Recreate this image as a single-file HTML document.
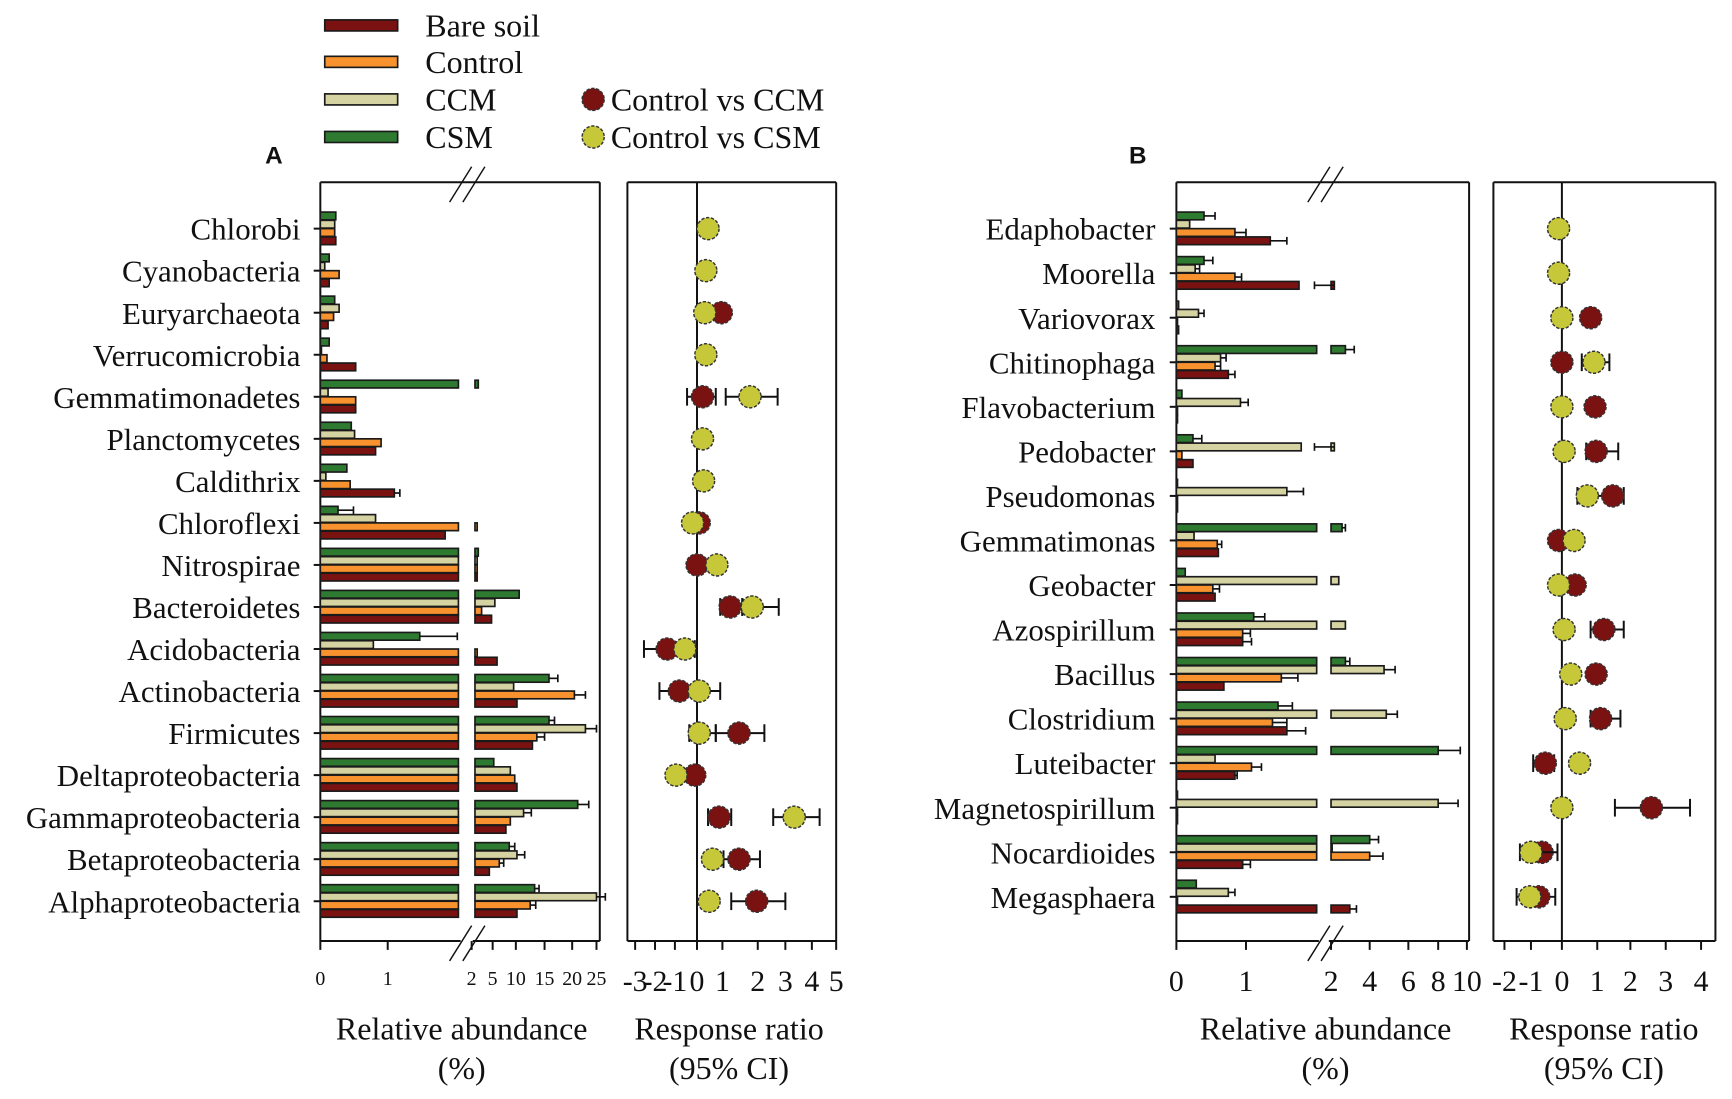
<!DOCTYPE html>
<html><head><meta charset="utf-8"><style>
html,body{margin:0;padding:0;background:#fff;}
svg{display:block;}
text{font-family:"Liberation Serif",serif;fill:#111;}
</style></head><body>
<svg id="s" width="1732" height="1099" viewBox="0 0 1568 995" preserveAspectRatio="none" xmlns="http://www.w3.org/2000/svg"></svg>
<script>
const C={r:'#7a1212',o:'#f7922e',c:'#d6d3a2',g:'#2e7a30',y:'#c6c83a'};
let h='';
function rect(x,y,w,hh,f){h+=`<rect x="${x}" y="${y}" width="${w}" height="${hh}" fill="${f}" stroke="#1a1a1a" stroke-width="1.5"/>`;}
function line(x1,y1,x2,y2,w){h+=`<line x1="${x1}" y1="${y1}" x2="${x2}" y2="${y2}" stroke="#111" stroke-width="${w||1.8}"/>`;}
function txt(x,y,s,sz,anc,extra){h+=`<text x="${x}" y="${y}" font-size="${sz}" text-anchor="${anc||'start'}" ${extra||''}>${s}</text>`;}
function circ(x,y,f){h+=`<circle cx="${x}" cy="${y}" r="10" fill="${f}" stroke="#333" stroke-width="1.3" stroke-dasharray="3,1.5"/>`;}
[['r','Bare soil',23],['o','Control',56],['c','CCM',90],['g','CSM',124]].forEach(([k,t,y])=>{rect(294,y-5,66,10,C[k]);txt(385,y+10,t,29);});
circ(537,90,C.r);txt(553,100,'Control vs CCM',29);
circ(537,124,C.y);txt(553,134,'Control vs CSM',29);
txt(248,148,'A',22,'middle','font-weight="bold" style="font-family:Liberation Sans,sans-serif"');
txt(1030,148,'B',22,'middle','font-weight="bold" style="font-family:Liberation Sans,sans-serif"');
function panel(o){
 const top=165,bot=852;
 line(o.x0,top,o.x1,top);line(o.x0,top,o.x0,bot);line(o.x1,top,o.x1,bot);line(o.x0,bot,o.x1,bot);
 line(o.r0,top,o.r1,top);line(o.r0,top,o.r0,bot);line(o.r1,top,o.r1,bot);line(o.r0,bot,o.r1,bot);
 line(o.zero,top,o.zero,bot);
 h+=`<rect x="${o.b1+2}" y="${bot-2}" width="${o.b2-o.b1-4}" height="6" fill="#fff"/>`;
 [[o.b1-8,o.b1+12],[o.b1+4,o.b1+24]].forEach(([a,b])=>{line(a,bot+18,b,bot-14,1.3);line(a,top+18,b,top-14,1.3);});
 o.ticks.forEach(([x,l])=>{line(x,bot,x,bot+8);txt(x,892,l,18,'middle');});
 o.rticks.forEach(([x,l])=>{line(x,bot,x,bot+8);txt(x,897,l,27,'middle');});
 txt(o.lab1,941,'Relative abundance',29,'middle');txt(o.lab1,977,'(%)',29,'middle');
 txt(o.lab2,941,'Response ratio',29,'middle');txt(o.lab2,977,'(95% CI)',29,'middle');
 o.rows.forEach((r,i)=>{
  const y=o.y0+i*o.dy;
  txt(o.lx,y+10,r[0],28,'end');
  line(o.x0-6,y,o.x0,y);
  const ks=['g','c','o','r'];
  r[1].forEach((b,j)=>{
   const by=y-15+j*7.5;
   const [e,s2,err]=b;
   rect(o.x0,by,Math.max(1,Math.min(e,o.b1)-o.x0),7,C[ks[j]]);
   if(s2){rect(o.b2,by,Math.max(1,s2-o.b2),7,C[ks[j]]);}
   if(err){const xe=s2||e;line(xe,by+3.5,err,by+3.5,1.5);line(err,by,err,by+7,1.5);}
  });
  r[2].forEach(p=>{
   const [x,k,lo,hi]=p;
   if(lo){line(lo,y,hi,y,1.8);line(lo,y-8,lo,y+8,1.8);line(hi,y-8,hi,y+8,1.8);}
   circ(x,y,C[k]);
  });
 });
}
panel({x0:290,x1:543,r0:568,r1:757,zero:631,b1:415,b2:430,y0:207,dy:38.06,lx:272,lab1:418,lab2:660,
 ticks:[[290,'0'],[351,'1'],[427,'2'],[446,'5'],[467,'10'],[493,'15'],[518,'20'],[540,'25']],
 rticks:[[575,'-3'],[593,'-2'],[611,'-1'],[631,'0'],[654,'1'],[686,'2'],[711,'3'],[735,'4'],[757,'5']],
 rows:[
 ['Chlorobi',[[304],[303],[303],[304]],[[641,'y']]],
 ['Cyanobacteria',[[298],[294],[307],[298]],[[639,'y']]],
 ['Euryarchaeota',[[303],[307],[302],[297]],[[653,'r'],[638,'y']]],
 ['Verrucomicrobia',[[298],[291],[296],[322]],[[639,'y']]],
 ['Gemmatimonadetes',[[415,433],[297],[322],[322]],[[636,'r',622,648],[679,'y',657,704]]],
 ['Planctomycetes',[[318],[321],[345],[340]],[[636,'y']]],
 ['Caldithrix',[[314],[295],[317],[357,0,362]],[[637,'y']]],
 ['Chloroflexi',[[306,0,320],[340],[415,432],[403]],[[633,'r'],[627,'y']]],
 ['Nitrospirae',[[415,433],[415,432],[415,432],[415,432]],[[631,'r'],[649,'y']]],
 ['Bacteroidetes',[[415,470],[415,448],[415,436],[415,445]],[[661,'r',652,672],[681,'y',672,705]]],
 ['Acidobacteria',[[380,0,414],[338],[415,432],[415,450]],[[604,'r',583,629],[620,'y']]],
 ['Actinobacteria',[[415,497,505],[415,465],[415,520,530],[415,468]],[[615,'r',597,652],[633,'y']]],
 ['Firmicutes',[[415,497,502],[415,530,540],[415,486,493],[415,482]],[[633,'y',624,648],[669,'r',648,692]]],
 ['Deltaproteobacteria',[[415,447],[415,462],[415,466],[415,468]],[[629,'r'],[612,'y']]],
 ['Gammaproteobacteria',[[415,523,533],[415,474,481],[415,462],[415,458]],[[651,'r',641,662],[719,'y',700,742]]],
 ['Betaproteobacteria',[[415,461,466],[415,468,475],[415,452,456],[415,443]],[[669,'r',655,688],[645,'y']]],
 ['Alphaproteobacteria',[[415,484,488],[415,540,548],[415,480,485],[415,468]],[[685,'r',662,711],[642,'y']]]
 ]});
panel({x0:1065,x1:1330,r0:1352,r1:1553,zero:1414,b1:1192,b2:1205,y0:207,dy:40.33,lx:1046,lab1:1200,lab2:1452,
 ticks:[],
 rticks:[[1065,'0'],[1128,'1'],[1205,'2'],[1240,'4'],[1275,'6'],[1302,'8'],[1328,'10'],[1362,'-2'],[1386,'-1'],[1414,'0'],[1446,'1'],[1476,'2'],[1508,'3'],[1540,'4']],
 rows:[
 ['Edaphobacter',[[1090,0,1100],[1077],[1118,0,1128],[1150,0,1165]],[[1411,'y']]],
 ['Moorella',[[1090,0,1098],[1082,0,1086],[1118,0,1124],[1176,1208,1190]],[[1411,'y']]],
 ['Variovorax',[[1067],[1085,0,1090],[1066],[1067]],[[1440,'r'],[1414,'y']]],
 ['Chitinophaga',[[1192,1218,1226],[1105,0,1110],[1100,0,1105],[1112,0,1118]],[[1414,'r'],[1443,'y',1432,1457]]],
 ['Flavobacterium',[[1070],[1123,0,1130],[1066],[1066]],[[1444,'r'],[1414,'y']]],
 ['Pedobacter',[[1080,0,1088],[1178,1208,1190],[1070],[1080]],[[1445,'r',1436,1465],[1416,'y']]],
 ['Pseudomonas',[[1066],[1165,0,1180],[1066],[1066]],[[1460,'r',1428,1470],[1437,'y']]],
 ['Gemmatimonas',[[1192,1215,1218],[1081],[1102,0,1106],[1103]],[[1411,'r'],[1425,'y']]],
 ['Geobacter',[[1073],[1192,1212],[1098,0,1104],[1100]],[[1426,'r'],[1411,'y']]],
 ['Azospirillum',[[1135,0,1145],[1192,1218],[1125,0,1132],[1125,0,1133]],[[1452,'r',1440,1470],[1416,'y']]],
 ['Bacillus',[[1192,1218,1222],[1192,1253,1263],[1160,0,1175],[1108]],[[1445,'r'],[1422,'y']]],
 ['Clostridium',[[1157,0,1170],[1192,1255,1265],[1152,0,1165],[1165,0,1182]],[[1449,'r',1440,1467],[1417,'y']]],
 ['Luteibacter',[[1192,1302,1322],[1100],[1133,0,1142],[1118,0,1120]],[[1399,'r',1388,1407],[1430,'y']]],
 ['Magnetospirillum',[[1066],[1192,1302,1320],[1066],[1066]],[[1495,'r',1462,1530],[1414,'y']]],
 ['Nocardioides',[[1192,1240,1248],[1192,1205],[1192,1240,1252],[1125,0,1132]],[[1396,'r'],[1386,'y',1376,1410]]],
 ['Megasphaera',[[1083],[1112,0,1118],[1066],[1192,1222,1228]],[[1393,'r',1373,1408],[1385,'y']]]
 ]});
document.getElementById('s').innerHTML=h;
</script>
</body></html>
